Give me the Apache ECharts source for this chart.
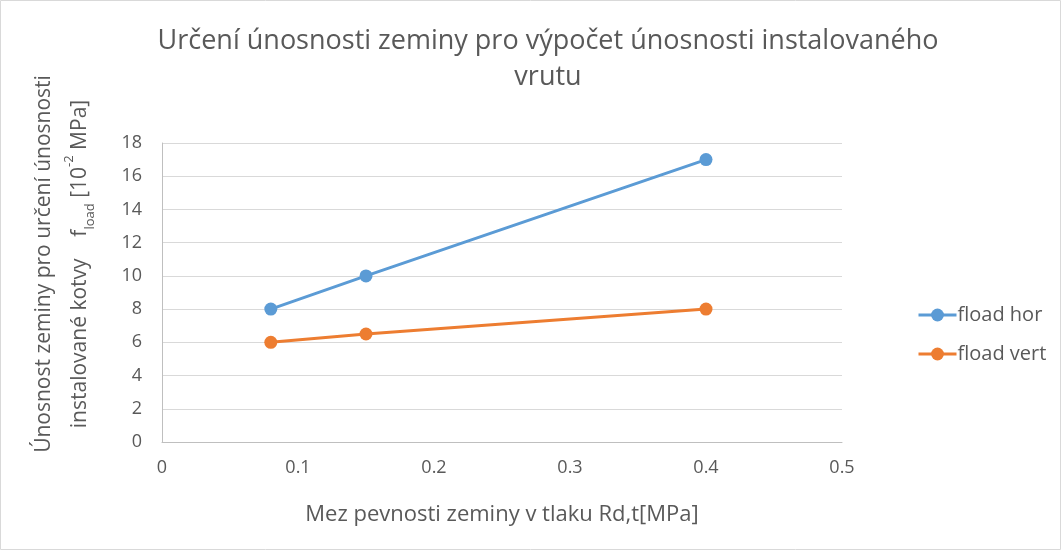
<!DOCTYPE html>
<html>
<head>
<meta charset="utf-8">
<script src="https://cdn.jsdelivr.net/npm/echarts@6/dist/echarts.min.js"></script>
<style>
  html, body { margin: 0; padding: 0; background: #fff; }
  #chart { width: 1062px; height: 551px; }
</style>
</head>
<body>
<div id="chart"></div>
<script>
const rdt = [0.08, 0.15, 0.4];
const floadHor = [8, 10, 17];
const floadVert = [6, 6.5, 8];

const font = 'Open Sans';
const grey = '#595959';

const chart = echarts.init(document.getElementById('chart'));

chart.setOption({
  textStyle: { fontFamily: font },
  title: {
    text: 'Určení únosnosti zeminy pro výpočet únosnosti instalovaného\nvrutu',
    left: 543,
    textAlign: 'center',
    top: 18,
    textStyle: { fontSize: 27, fontWeight: 'normal', color: grey, lineHeight: 36, fontFamily: font }
  },
  grid: { left: 162, right: 220, top: 143, bottom: 109 },
  xAxis: {
    type: 'value',
    min: 0, max: 0.5, interval: 0.1,
    name: 'Mez pevnosti zeminy v tlaku Rd,t[MPa]',
    nameLocation: 'middle',
    nameGap: 62,
    nameTextStyle: { fontSize: 22, color: grey },
    axisLine: { show: true, lineStyle: { color: '#bfbfbf', width: 1 } },
    axisTick: { show: false },
    splitLine: { show: false },
    axisLabel: { fontSize: 18, color: grey, margin: 17 }
  },
  yAxis: {
    type: 'value',
    min: 0, max: 18, interval: 2,
    axisLine: { show: true, lineStyle: { color: '#bfbfbf', width: 1 } },
    axisTick: { show: false },
    splitLine: { lineStyle: { color: '#d9d9d9', width: 1 } },
    axisLabel: { fontSize: 18, color: grey, margin: 20 }
  },
  legend: {
    orient: 'vertical',
    left: 912,
    top: 300,
    itemGap: 19,
    itemWidth: 38,
    itemHeight: 16,
    lineStyle: { width: 3 },
    textStyle: { fontSize: 20, color: grey, padding: [0, 0, 0, -4] },
    data: ['fload hor', 'fload vert']
  },
  graphic: [
    {
      type: 'rect',
      shape: { x: 0.5, y: 0.5, width: 1060, height: 549 },
      style: { fill: 'none', stroke: '#d9d9d9', lineWidth: 1 },
      silent: true
    },
    {
      type: 'text',
      x: 44, y: 264,
      rotation: Math.PI / 2,
      style: {
        text: 'Únosnost zeminy pro určení únosnosti',
        fill: grey, fontSize: 21, fontFamily: font,
        align: 'center', verticalAlign: 'middle'
      }
    },
    {
      type: 'text',
      x: 80, y: 264,
      rotation: Math.PI / 2,
      style: {
        text: '{n|instalované kotvy    f}{sub|load}{n| [10}{sup|-2}{n| MPa]}',
        fill: grey, fontSize: 21, fontFamily: font,
        align: 'center', verticalAlign: 'middle',
        rich: {
          n: { fontSize: 21, fill: grey, fontFamily: font, lineHeight: 34, verticalAlign: 'middle' },
          sub: { fontSize: 13, fill: grey, fontFamily: font, lineHeight: 16, verticalAlign: 'bottom' },
          sup: { fontSize: 13, fill: grey, fontFamily: font, lineHeight: 16, verticalAlign: 'top' }
        }
      }
    }
  ],
  series: [
    {
      name: 'fload hor',
      type: 'line',
      data: rdt.map((x, i) => [x, floadHor[i]]),
      symbol: 'circle',
      symbolSize: 13,
      lineStyle: { width: 3, color: '#5b9bd5' },
      itemStyle: { color: '#5b9bd5' }
    },
    {
      name: 'fload vert',
      type: 'line',
      data: rdt.map((x, i) => [x, floadVert[i]]),
      symbol: 'circle',
      symbolSize: 13,
      lineStyle: { width: 3, color: '#ed7d31' },
      itemStyle: { color: '#ed7d31' }
    }
  ]
});
</script>
</body>
</html>
